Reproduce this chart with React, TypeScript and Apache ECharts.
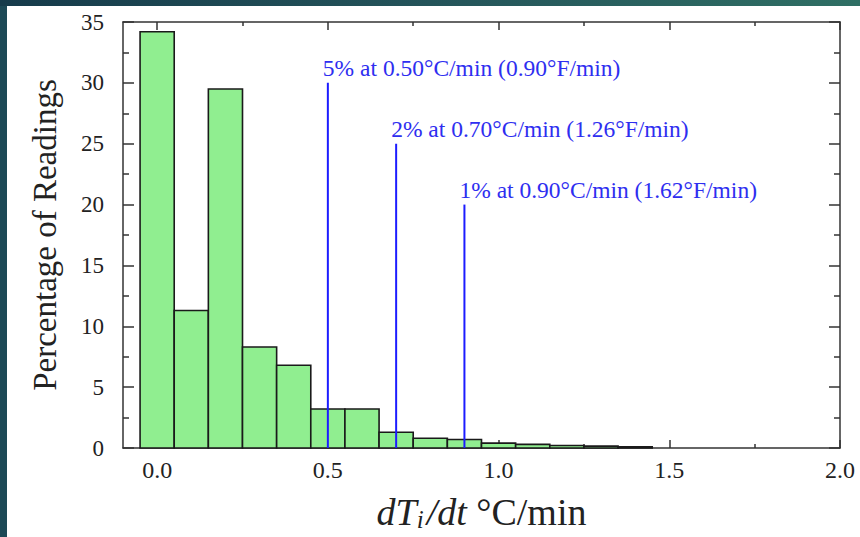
import React, { useEffect, useRef } from "react";
import * as echarts from "echarts";

// ---- data ----
const binCenters = [0.0, 0.1, 0.2, 0.3, 0.4, 0.5, 0.6, 0.7, 0.8, 0.9, 1.0, 1.1, 1.2, 1.3, 1.4];
const percentReadings = [34.2, 11.3, 29.5, 8.3, 6.8, 3.2, 3.2, 1.3, 0.8, 0.7, 0.4, 0.3, 0.2, 0.15, 0.1];
const binWidth = 0.1;

const thresholdRates = [0.5, 0.7, 0.9];
const thresholdHeights = [30, 25, 20];
const thresholdLabels = [
  "5% at 0.50°C/min (0.90°F/min)",
  "2% at 0.70°C/min (1.26°F/min)",
  "1% at 0.90°C/min (1.62°F/min)",
];

const xMajorTicks = [0.0, 0.5, 1.0, 1.5, 2.0];
const xMinorTicks = [0.25, 0.75, 1.25, 1.75];
const yTickLabels = [0, 5, 10, 15, 20, 25, 30, 35];

const SERIF = '"Liberation Serif", "Times New Roman", serif';
const FRAME = { color: "#333", width: 1.5 };

export default function App() {
  const ref = useRef<HTMLDivElement>(null);

  useEffect(() => {
    if (!ref.current) return;
    const chart = echarts.init(ref.current, null, { renderer: "svg" });

    const xBase = (position: string, ticks: number[], len: number, showLine: boolean, labels: boolean) => ({
      type: "value",
      position,
      min: -0.1,
      max: 2.0,
      axisLine: { show: showLine, onZero: false, lineStyle: FRAME },
      axisTick: { show: true, inside: true, length: len, customValues: ticks, lineStyle: FRAME },
      axisLabel: labels
        ? {
            show: true,
            customValues: ticks,
            formatter: (v: number) => v.toFixed(1),
            fontFamily: SERIF,
            fontSize: 24,
            color: "#222",
            margin: 10,
          }
        : { show: false },
      splitLine: { show: false },
    });

    const yBase = (position: string, labels: boolean) => ({
      type: "value",
      position,
      min: yTickLabels[0],
      max: yTickLabels[yTickLabels.length - 1],
      interval: 5,
      axisLine: { show: true, onZero: false, lineStyle: FRAME },
      axisTick: { show: true, inside: true, length: 11, lineStyle: FRAME },
      minorTick: { show: true, splitNumber: 2, length: 6, lineStyle: FRAME },
      axisLabel: labels
        ? { show: true, fontFamily: SERIF, fontSize: 23, color: "#222", margin: 19 }
        : { show: false },
      splitLine: { show: false },
      minorSplitLine: { show: false },
    });

    const xMain: any = xBase("bottom", xMajorTicks, 8, true, true);
    xMain.name = "{it|dT}{sub|i}{it|/dt}{rm| °C/min}";
    xMain.nameLocation = "middle";
    xMain.nameGap = 44;
    xMain.nameTextStyle = {
      color: "#222",
      fontFamily: SERIF,
      fontSize: 38,
      rich: {
        it: { fontFamily: SERIF, fontStyle: "italic", fontSize: 38, color: "#222" },
        sub: { fontFamily: SERIF, fontStyle: "italic", fontSize: 25, color: "#222", padding: [15, 3, 0, 0] },
        rm: { fontFamily: SERIF, fontSize: 38, color: "#222" },
      },
    };

    const yMain: any = yBase("left", true);
    yMain.name = "Percentage of Readings";
    yMain.nameLocation = "middle";
    yMain.nameRotate = 90;
    yMain.nameGap = 62;
    yMain.nameTextStyle = { fontFamily: SERIF, fontSize: 33, color: "#222" };

    chart.setOption({
      animation: false,
      backgroundColor: "#ffffff",
      grid: { left: 116, right: 20, top: 16, bottom: 88, containLabel: false },
      xAxis: [
        xMain,
        xBase("bottom", xMinorTicks, 4, false, false),
        xBase("top", xMajorTicks, 8, true, false),
        xBase("top", xMinorTicks, 4, false, false),
      ],
      yAxis: [yMain, yBase("right", false)],
      series: [
        {
          type: "custom",
          name: "Readings",
          xAxisIndex: 0,
          yAxisIndex: 0,
          data: binCenters.map((c, i) => [c, percentReadings[i]]),
          encode: { x: 0, y: 1 },
          renderItem: (params: any, api: any) => {
            const c = api.value(0);
            const v = api.value(1);
            const p0 = api.coord([c - binWidth / 2, v]);
            const p1 = api.coord([c + binWidth / 2, 0]);
            return {
              type: "rect",
              shape: { x: p0[0], y: p0[1], width: p1[0] - p0[0], height: p1[1] - p0[1] },
              style: { fill: "#90ee90", stroke: "#1a1a1a", lineWidth: 1.6 },
            };
          },
          z: 2,
        },
        {
          type: "custom",
          name: "Thresholds",
          xAxisIndex: 0,
          yAxisIndex: 0,
          data: thresholdRates.map((x, i) => [x, thresholdHeights[i]]),
          encode: { x: 0, y: 1 },
          renderItem: (params: any, api: any) => {
            const x = api.value(0);
            const h = api.value(1);
            const top = api.coord([x, h]);
            const bot = api.coord([x, 0]);
            return {
              type: "group",
              children: [
                {
                  type: "line",
                  shape: { x1: top[0], y1: top[1], x2: bot[0], y2: bot[1] },
                  style: { stroke: "#1c1cff", lineWidth: 2 },
                },
                {
                  type: "text",
                  x: top[0] - 5,
                  y: top[1] - 3,
                  style: {
                    text: thresholdLabels[params.dataIndex],
                    fill: "#2e2ef0",
                    fontFamily: SERIF,
                    fontSize: 23.5,
                    align: "left",
                    verticalAlign: "bottom",
                  },
                },
              ],
            };
          },
          z: 3,
        },
      ],
    });

    return () => chart.dispose();
  }, []);

  return (
    <div
      style={{
        position: "fixed",
        left: 0,
        top: 0,
        width: 860,
        height: 537,
        background: "linear-gradient(to right, #163b4b, #24545a 50%, #2f6f64)",
        overflow: "hidden",
      }}
    >
      <div
        style={{
          position: "absolute",
          left: 0,
          top: 6,
          width: 7,
          height: 531,
          background: "#1c4956",
        }}
      />
      <div
        ref={ref}
        style={{ position: "absolute", left: 7, top: 6, width: 853, height: 531, background: "#fff" }}
      />
    </div>
  );
}
